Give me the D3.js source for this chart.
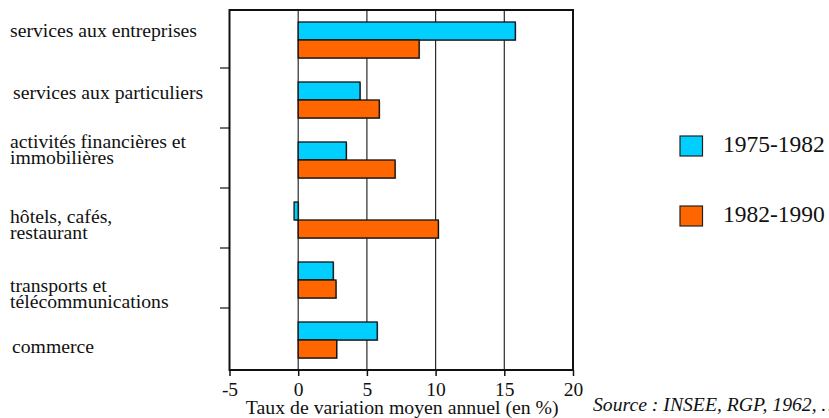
<!DOCTYPE html>
<html><head><meta charset="utf-8">
<script src="https://cdn.jsdelivr.net/npm/d3@7"></script>
<style>
html,body{margin:0;padding:0;background:#fff;}
svg text{font-family:"Liberation Serif","Times New Roman",serif;fill:#111;}
</style></head>
<body>
<svg id="chart" width="829" height="418"></svg>
<script>
const categories = [
  "services aux entreprises",
  "services aux particuliers",
  "activités financières et\nimmobilières",
  "hôtels, cafés,\nrestaurant",
  "transports et\ntélécommunications",
  "commerce"
];
const seriesNames = ["1975-1982", "1982-1990"];
const values1975_1982 = [15.8, 4.5, 3.5, -0.3, 2.55, 5.75];
const values1982_1990 = [8.8, 5.9, 7.05, 10.2, 2.75, 2.8];
const xTicks = [-5, 0, 5, 10, 15, 20];
const gridValues = [0, 5, 10, 15];
const axisTitle = "Taux de variation moyen annuel (en %)";
const sourceText = "Source : INSEE, RGP, 1962, …";

// layout (not data)
const colors = ["#00CFFF", "#FF6600"];
const FONT = '"Liberation Serif","Times New Roman",serif';
const labelX = [10, 13, 10, 10, 10, 12];
const labelDy = [-3, -1, -12, 3, 12, 13];

const svg = d3.select("#chart");
const pLeft = 229.5, pRight = 573, pTop = 10, pBottom = 370;

const x = d3.scaleLinear().domain([-5, 20]).range([pLeft, pRight]);
const y = d3.scaleBand().domain(categories).range([pTop, pBottom]).paddingInner(0.4).paddingOuter(0.2);
const ySub = d3.scaleBand().domain(seriesNames).range([0, y.bandwidth()]);

// gridlines
svg.append("g").selectAll("line").data(gridValues).join("line")
  .attr("x1", d => x(d)).attr("x2", d => x(d))
  .attr("y1", pTop).attr("y2", pBottom)
  .attr("stroke", "#2a2a2a").attr("stroke-width", 1.2);

// bars
const rows = categories.map((c, i) => ({c, v: [values1975_1982[i], values1982_1990[i]]}));
const g = svg.append("g");
rows.forEach(r => {
  r.v.forEach((v, j) => {
    const s = seriesNames[j];
    const x0 = Math.min(x(0), x(v)), w = Math.abs(x(v) - x(0));
    g.append("rect")
      .attr("x", x0 + 1).attr("y", y(r.c) + ySub(s) + 1)
      .attr("width", w).attr("height", ySub.bandwidth())
      .attr("fill", "#555").attr("opacity", 0.6);
    g.append("rect")
      .attr("x", x0).attr("y", y(r.c) + ySub(s))
      .attr("width", w).attr("height", ySub.bandwidth())
      .attr("fill", colors[j]).attr("stroke", "#111").attr("stroke-width", 1.3);
  });
});

// frame
svg.append("rect").attr("x", pLeft).attr("y", pTop)
  .attr("width", pRight - pLeft).attr("height", pBottom - pTop)
  .attr("fill", "none").attr("stroke", "#111").attr("stroke-width", 2);

// category separator ticks
const step = y.step();
const seps = categories.slice(0, -1).map(c => y(c) + y.bandwidth() + step * y.paddingInner() / 2 - 2);
svg.append("g").selectAll("line").data(seps).join("line")
  .attr("x1", pLeft - 9.5).attr("x2", pLeft).attr("y1", d => d).attr("y2", d => d)
  .attr("stroke", "#111").attr("stroke-width", 1.2);

// bottom axis
const xAxis = svg.append("g").attr("transform", `translate(0,${pBottom})`)
  .call(d3.axisBottom(x).tickValues(xTicks).tickSize(6).tickPadding(6).tickFormat(d => String(d)));
xAxis.attr("font-family", FONT);
xAxis.select(".domain").remove();
xAxis.selectAll(".tick line").attr("stroke", "#111").attr("stroke-width", 1.5);
xAxis.selectAll(".tick text").style("font-size", "19.5px").style("font-family", FONT).attr("fill", "#111");

svg.append("text").attr("x", (pLeft + pRight) / 2 + 1).attr("y", 413.5)
  .attr("text-anchor", "middle").style("font-size", "19.8px").style("font-family", FONT).text(axisTitle);

svg.append("text").attr("x", 593).attr("y", 411)
  .style("font-size", "19.7px").style("font-style", "italic").style("font-family", FONT).text(sourceText);

// category labels
categories.forEach((c, i) => {
  const lines = c.split("\n");
  const cy = y(c) + y.bandwidth() / 2 + labelDy[i];
  const t = svg.append("text").attr("x", labelX[i]).attr("y", cy)
    .style("font-size", "19.7px").style("font-family", FONT);
  lines.forEach((l, k) => {
    t.append("tspan").attr("x", labelX[i]).attr("dy", k === 0 ? 0 : 16).text(l);
  });
});

// legend
const legY = [146, 216];
seriesNames.forEach((s, j) => {
  svg.append("rect").attr("x", 680).attr("y", legY[j] - 10).attr("width", 22.5).attr("height", 20)
    .attr("fill", colors[j]).attr("stroke", "#222").attr("stroke-width", 1.2);
  svg.append("text").attr("x", 723).attr("y", legY[j] + 6)
    .style("font-size", "23.5px").style("font-family", FONT).text(s);
});
</script>
</body></html>
